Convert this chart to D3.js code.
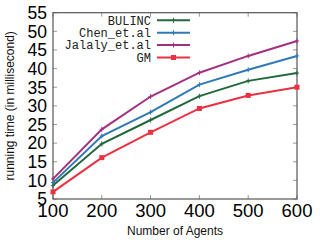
<!DOCTYPE html>
<html lang="en">
<head>
<meta charset="utf-8">
<title>Running time</title>
<style type="text/css">
body { margin: 0; background: #fff; }
.tick-label { font: 17.5px "Liberation Sans", Arial, sans-serif; fill: #000; }
.xlab { font-size: 18.5px; }
.axis-title { font: 12px "Liberation Sans", Arial, sans-serif; fill: #111; }
.legend text { font: 12px "Liberation Mono", "DejaVu Sans Mono", monospace; fill: #222; }
</style>
</head>
<body>
<svg width="320" height="240"></svg>
<script src="https://d3js.org/d3.v7.min.js"></script>
<script>
var agents = [100, 200, 300, 400, 500, 600];
var seriesNames = ["BULINC", "Chen_et.al", "Jalaly_et.al", "GM"];
var bulinc = [8.6, 19.8, 26.2, 32.6, 36.7, 38.8];
var chen = [9.4, 21.9, 28.3, 35.7, 39.7, 43.4];
var jalaly = [10.4, 23.7, 32.5, 38.9, 43.4, 47.4];
var gm = [6.9, 16.1, 22.9, 29.3, 32.8, 35.0];
var yTicks = [5, 10, 15, 20, 25, 30, 35, 40, 45, 50, 55];
var colors = ["#22683c", "#2f7ab4", "#a3307f", "#ea3142"];

var series = [bulinc, chen, jalaly, gm];

var svg = d3.select("svg"),
    pLeft = 53, pRight = 297, pTop = 12.7, pBottom = 199;

var x = d3.scaleLinear().domain([100, 600]).range([pLeft, pRight]);
var y = d3.scaleLinear().domain([5, 55]).range([pBottom, pTop]);

// ticks, mirrored inside the frame
var tk = svg.append("g").attr("stroke", "#999").attr("stroke-width", 1);
agents.forEach(function(v) {
  tk.append("line").attr("x1", x(v)).attr("x2", x(v)).attr("y1", pBottom).attr("y2", pBottom - 4);
  tk.append("line").attr("x1", x(v)).attr("x2", x(v)).attr("y1", pTop).attr("y2", pTop + 4);
});
yTicks.forEach(function(v) {
  tk.append("line").attr("x1", pLeft).attr("x2", pLeft + 4).attr("y1", y(v)).attr("y2", y(v));
  tk.append("line").attr("x1", pRight).attr("x2", pRight - 4).attr("y1", y(v)).attr("y2", y(v));
});

svg.append("rect")
    .attr("x", pLeft).attr("y", pTop)
    .attr("width", pRight - pLeft).attr("height", pBottom - pTop)
    .attr("fill", "none").attr("stroke", "#555").attr("stroke-width", 1.2);

svg.selectAll(".ylab").data(yTicks).enter().append("text")
    .attr("class", "tick-label")
    .attr("x", pLeft - 6).attr("y", function(d) { return y(d); })
    .attr("dy", "0.36em").attr("text-anchor", "end")
    .text(function(d) { return d; });

svg.selectAll(".xlab").data(agents).enter().append("text")
    .attr("class", "tick-label xlab")
    .attr("x", function(d) { return x(d); }).attr("y", 217)
    .attr("text-anchor", "middle")
    .text(function(d) { return d; });

svg.append("text").attr("class", "axis-title")
    .attr("x", 175).attr("y", 235).attr("text-anchor", "middle")
    .text("Number of Agents");

svg.append("text").attr("class", "axis-title")
    .attr("transform", "translate(14," + ((pTop + pBottom) / 2) + ") rotate(-90)")
    .attr("text-anchor", "middle")
    .text("running time (in millisecond)");

var line = d3.line()
    .x(function(d, i) { return x(agents[i]); })
    .y(function(d) { return y(d); });

function drawMarker(g, cx, cy, i, c) {
  if (i == 3) {
    g.append("rect").attr("x", cx - 2.5).attr("y", cy - 2.5)
      .attr("width", 5).attr("height", 5).attr("fill", c);
  } else {
    g.append("path").attr("d", "M" + (cx - 2) + "," + cy + "h4M" + cx + "," + (cy - 2.5) + "v5")
      .attr("stroke", c).attr("stroke-width", 1);
  }
}

series.forEach(function(s, i) {
  svg.append("path").datum(s)
      .attr("d", line)
      .attr("fill", "none")
      .attr("stroke", colors[i])
      .attr("stroke-width", 2);
  var g = svg.append("g");
  s.forEach(function(v, j) { drawMarker(g, x(agents[j]), y(v), i, colors[i]); });
});

// legend
var legend = svg.append("g").attr("class", "legend");
seriesNames.forEach(function(name, i) {
  var ly = 20.3 + i * 12.4;
  legend.append("text").attr("x", 151).attr("y", ly).attr("dy", "0.35em")
      .attr("text-anchor", "end").text(name);
  legend.append("line").attr("x1", 157).attr("x2", 190).attr("y1", ly).attr("y2", ly)
      .attr("stroke", colors[i]).attr("stroke-width", 2);
  drawMarker(legend, 173.5, ly, i, colors[i]);
});
</script>
</body>
</html>
